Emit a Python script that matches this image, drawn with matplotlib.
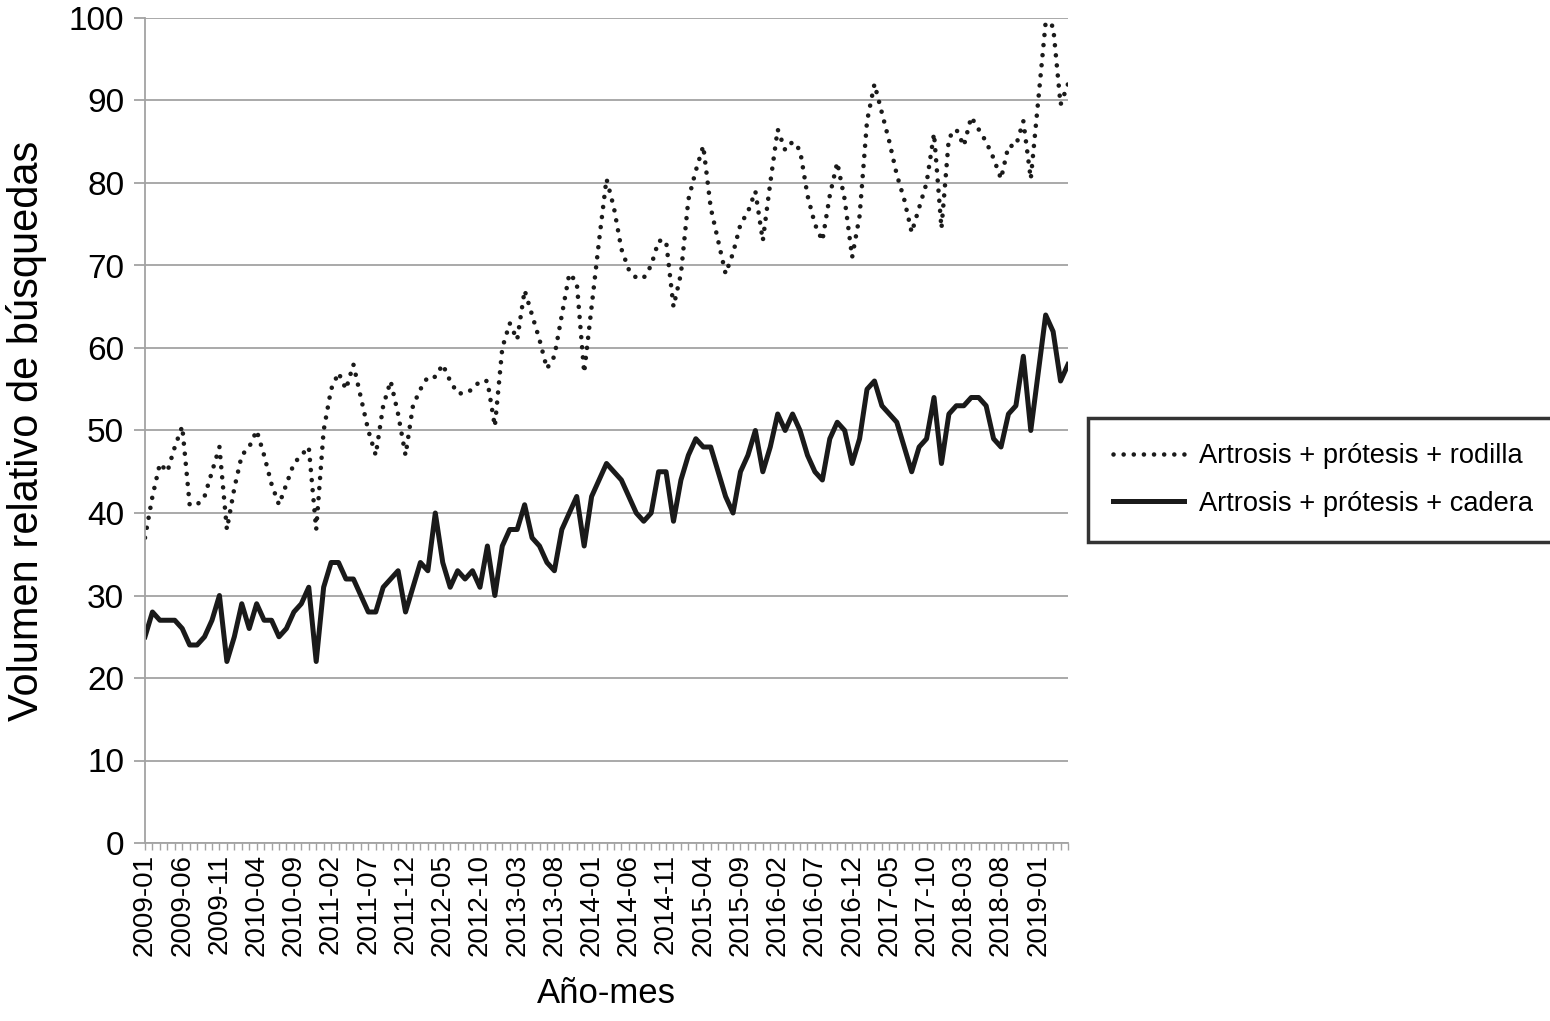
import pandas as pd
import matplotlib.pyplot as plt
from matplotlib.ticker import MultipleLocator

plt.rcParams['font.family'] = ['Liberation Sans', 'DejaVu Sans']

# Monthly categories, 2009-01 .. 2019-05
months = pd.date_range('2009-01', periods=125, freq='MS').strftime('%Y-%m').tolist()

# Artrosis + prótesis + rodilla (dotted)
rodilla = [
    37, 42, 46, 45, 48, 50.5, 41, 41, 42, 45, 48, 38,
    43, 47, 48, 50, 47, 43.5, 41, 43.5, 46, 47, 48, 38,
    50, 55, 57, 55, 58, 54, 50, 47, 53, 56, 52, 47,
    53, 55, 56.5, 56.5, 58, 56, 54.5, 54.5, 55, 56, 56, 50.5,
    60, 63, 61, 67, 64, 61, 57.5, 59, 64, 69, 68, 57,
    65, 73, 80.5, 77, 72, 69.5, 68.5, 68.5, 70, 73, 73, 65,
    69, 78, 81.5, 84.5, 77, 73, 69, 71.5, 75, 76.5, 79, 73,
    80, 86.5, 84, 85, 84, 78.5, 75, 73, 78.5, 82.5, 78, 71,
    76, 87.5, 92, 88.5, 85, 81, 78, 74, 77, 80, 86, 74.5,
    85.5, 86.5, 84.5, 88, 86.5, 85, 83, 80.5, 84.5, 84.5, 87.5, 80.5,
    90, 99.5, 99, 89.5, 92,
]

# Artrosis + prótesis + cadera (solid)
cadera = [
    25, 28, 27, 27, 27, 26, 24, 24, 25, 27, 30, 22,
    25, 29, 26, 29, 27, 27, 25, 26, 28, 29, 31, 22,
    31, 34, 34, 32, 32, 30, 28, 28, 31, 32, 33, 28,
    31, 34, 33, 40, 34, 31, 33, 32, 33, 31, 36, 30,
    36, 38, 38, 41, 37, 36, 34, 33, 38, 40, 42, 36,
    42, 44, 46, 45, 44, 42, 40, 39, 40, 45, 45, 39,
    44, 47, 49, 48, 48, 45, 42, 40, 45, 47, 50, 45,
    48, 52, 50, 52, 50, 47, 45, 44, 49, 51, 50, 46,
    49, 55, 56, 53, 52, 51, 48, 45, 48, 49, 54, 46,
    52, 53, 53, 54, 54, 53, 49, 48, 52, 53, 59, 50,
    57, 64, 62, 56, 58,
]

grid_col = '#a3a3a3'
x = list(range(len(months)))

fig = plt.figure(figsize=(15.5, 10.21), dpi=100)
ax = fig.add_axes([145 / 1550, 1 - 843 / 1021, 923 / 1550, 825 / 1021])

ax.plot(x, rodilla, color='#1a1a1a', lw=3.3, linestyle=(0, (0.01, 2.2)),
        dash_capstyle='round', label='Artrosis + prótesis + rodilla')
ax.plot(x, cadera, color='#1a1a1a', lw=3.6, solid_joinstyle='round',
        label='Artrosis + prótesis + cadera')

ax.set_xlim(0, len(months) - 1)
ax.set_ylim(0, 100)
ax.yaxis.set_major_locator(MultipleLocator(10))
ax.set_xticks(x[::5])
ax.set_xticklabels(months[::5], rotation=90)
ax.set_xticks(x, minor=True)

ax.grid(axis='y', color=grid_col, lw=1.3)
ax.set_axisbelow(True)
for s in ['top', 'right']:
    ax.spines[s].set_visible(False)
for s in ['left', 'bottom']:
    ax.spines[s].set_color(grid_col)
    ax.spines[s].set_linewidth(1.3)

ax.tick_params(axis='y', labelsize=24, length=8, width=1.3, color=grid_col, pad=7)
ax.tick_params(axis='x', which='both', labelsize=20, length=5, width=1, color=grid_col, pad=3)

ax.set_ylabel('Volumen relativo de búsquedas', fontsize=30)
ax.yaxis.set_label_coords(-0.106, 0.5)
ax.set_xlabel('Año-mes', fontsize=25)
ax.xaxis.set_label_coords(0.5, -0.163)

leg = fig.legend(loc='center left', bbox_to_anchor=(1088 / 1550, 1 - 480 / 1021),
                 bbox_transform=fig.transFigure, fontsize=19.6, frameon=True,
                 fancybox=False, handlelength=2.6, borderpad=0.92, labelspacing=0.8,
                 handletextpad=0.55, borderaxespad=0)
leg.get_frame().set_edgecolor('black')
leg.get_frame().set_linewidth(2.5)

plt.savefig('out.png', dpi=100)
